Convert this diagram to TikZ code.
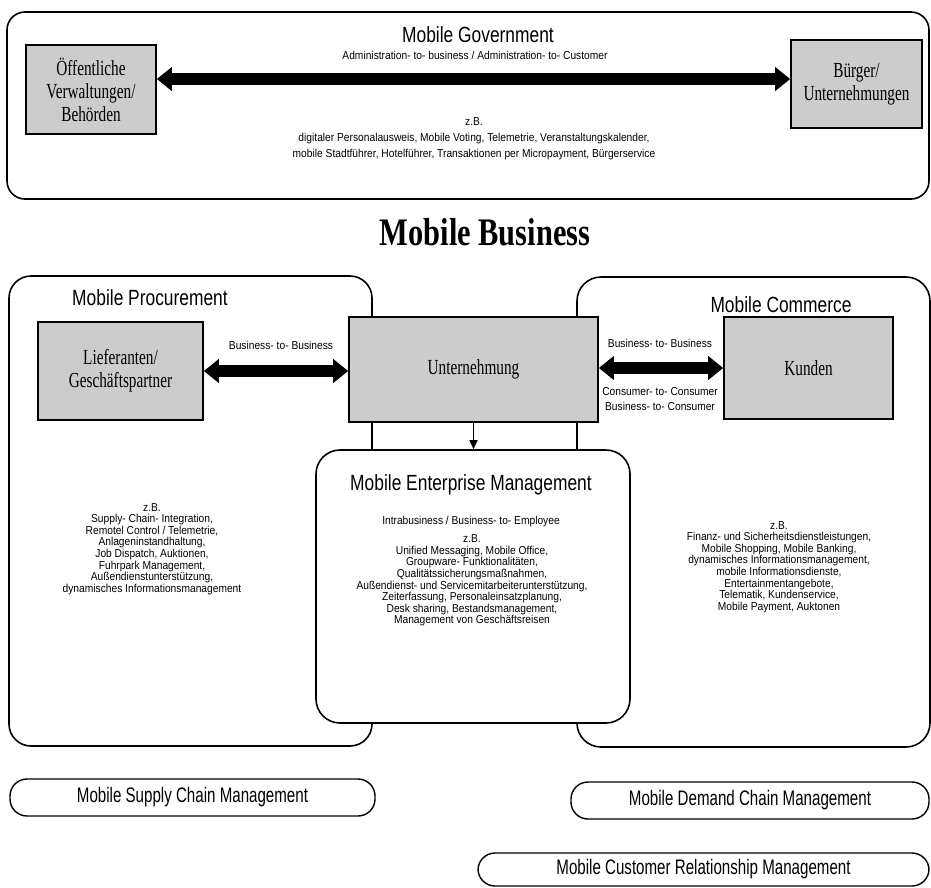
\documentclass[tikz,border=0pt]{standalone}
\usepackage{fontspec}
\usepackage{tikz}
\usetikzlibrary{arrows.meta,positioning}
\newfontfamily\boxfont[FakeStretch=0.71]{Liberation Serif}
\newfontfamily\titlefont[FakeStretch=0.78]{Liberation Serif}
\newfontfamily\headfont[FakeStretch=0.79]{Liberation Sans}
\newfontfamily\pillfont[FakeStretch=0.72]{Liberation Sans}
\newfontfamily\notefont[FakeStretch=0.89]{Liberation Sans}
\definecolor{boxgray}{RGB}{204,204,204}

\begin{document}
\begin{tikzpicture}[x=1pt,y=-1pt,
  frame/.style={draw=black,line width=1.6pt,rounded corners=#1,fill=white,inner sep=0pt},
  graybox/.style={draw=black,line width=1.6pt,fill=boxgray,align=center,inner sep=0pt,
    font=\boxfont\fontsize{21.5}{23}\selectfont},
  pill/.style={draw=black,line width=1.4pt,rounded corners=17pt,inner sep=0pt,
    font=\pillfont\fontsize{21}{24}\selectfont},
  headtext/.style={inner sep=0pt,font=\headfont\fontsize{22}{25}\selectfont},
  titletext/.style={inner sep=0pt,font=\titlefont\bfseries\fontsize{39}{44}\selectfont},
  note/.style={inner sep=0pt,align=center,font=\notefont\fontsize{11.5}{11.6}\selectfont},
  widenote/.style={note,font=\notefont\fontsize{11.5}{16}\selectfont},
  bigarrow/.style={line width=12pt,{Triangle[width=23pt,length=15pt]}-{Triangle[width=23pt,length=15pt]}},
  downarrow/.style={line width=1.5pt,-{Triangle[width=8pt,length=9pt]}}]
\useasboundingbox (0,0) rectangle (931,887);

% Mobile Government
\node[frame=18pt,minimum width=922pt,minimum height=187pt] (govframe) at (468,105.5) {};
\node[graybox,minimum width=130pt,minimum height=89pt] (behoerden) at (91,89.5) {Öffentliche\\Verwaltungen/\\Behörden};
\node[graybox,minimum width=131pt,minimum height=88pt] (buerger) at (856.5,84) {Bürger/\\Unternehmungen};
\node[headtext] (govtitle) at (478,35) {Mobile Government};
\node[note] (govtype) at (475,55) {Administration- to- business / Administration- to- Customer};
\coordinate (govaxis) at (0,79);
\draw[bigarrow] (behoerden.east |- govaxis) -- (buerger.west |- govaxis);
\node[widenote] (govlist) at (474,139) {z.B.\\digitaler Personalausweis, Mobile Voting, Telemetrie, Veranstaltungskalender,\\mobile Stadtführer, Hotelführer, Transaktionen per Micropayment, Bürgerservice};

\node[titletext] (mbtitle) at (485,232) {Mobile Business};

% Procurement / Commerce
\node[frame=22pt,minimum width=363pt,minimum height=470pt] (procframe) at (190.5,511) {};
\node[frame=24pt,minimum width=353pt,minimum height=470pt] (commframe) at (753.5,512) {};
\node[headtext] (proctitle) at (150,298) {Mobile Procurement};
\node[headtext] (commtitle) at (781,305) {Mobile Commerce};
\node[graybox,minimum width=165pt,minimum height=98pt] (lieferanten) at (120.5,371) {Lieferanten/\\Geschäftspartner};
\node[graybox,minimum width=169pt,minimum height=102pt] (kunden) at (808.5,368) {Kunden};
\node[graybox,minimum width=249pt,minimum height=105pt] (unternehmung) at (473.5,369.5) {Unternehmung};
\node[frame=24pt,minimum width=314pt,minimum height=273pt] (mem) at (473,586.5) {};

\draw[bigarrow] (lieferanten.east) -- (lieferanten.east -| unternehmung.west);
\draw[bigarrow] (kunden.west -| unternehmung.east) -- (kunden.west);
\draw[downarrow] (unternehmung.south) -- (unternehmung.south |- mem.north);

\node[note] (btobleft) at (281,345) {Business- to- Business};
\node[note] (btobright) at (660,343) {Business- to- Business};
\node[note,font=\notefont\fontsize{11.5}{15}\selectfont] (ctoc) at (660,399.5) {Consumer- to- Consumer\\Business- to- Consumer};

\node[note] (proclist) at (152,549) {z.B.\\Supply- Chain- Integration,\\Remotel Control / Telemetrie,\\Anlageninstandhaltung,\\Job Dispatch, Auktionen,\\Fuhrpark Management,\\Außendienstunterstützung,\\dynamisches Informationsmanagement};

\node[headtext] (memtitle) at (471,485) {Mobile Enterprise Management};
\node[note] (memtype) at (471,522) {Intrabusiness / Business- to- Employee};
\node[note] (memlist) at (472,580.5) {z.B.\\Unified Messaging, Mobile Office,\\Groupware- Funktionalitäten,\\Qualitätssicherungsmaßnahmen,\\Außendienst- und Servicemitarbeiterunterstützung,\\Zeiterfassung, Personaleinsatzplanung,\\Desk sharing, Bestandsmanagement,\\Management von Geschäftsreisen};

\node[note] (commlist) at (779,567) {z.B.\\Finanz- und Sicherheitsdienstleistungen,\\Mobile Shopping, Mobile Banking,\\dynamisches Informationsmanagement,\\mobile Informationsdienste,\\Entertainmentangebote,\\Telematik, Kundenservice,\\Mobile Payment, Auktonen};

% chain management
\node[pill,minimum width=365pt,minimum height=37pt] (scm) at (192.5,797.5) {Mobile Supply Chain Management};
\node[pill,minimum width=358pt,minimum height=37pt] (dcm) at (750,800.5) {Mobile Demand Chain Management};
\node[pill,minimum width=451pt,minimum height=33pt] (crm) at (703.5,869.5) {Mobile Customer Relationship Management};
\end{tikzpicture}
\end{document}
